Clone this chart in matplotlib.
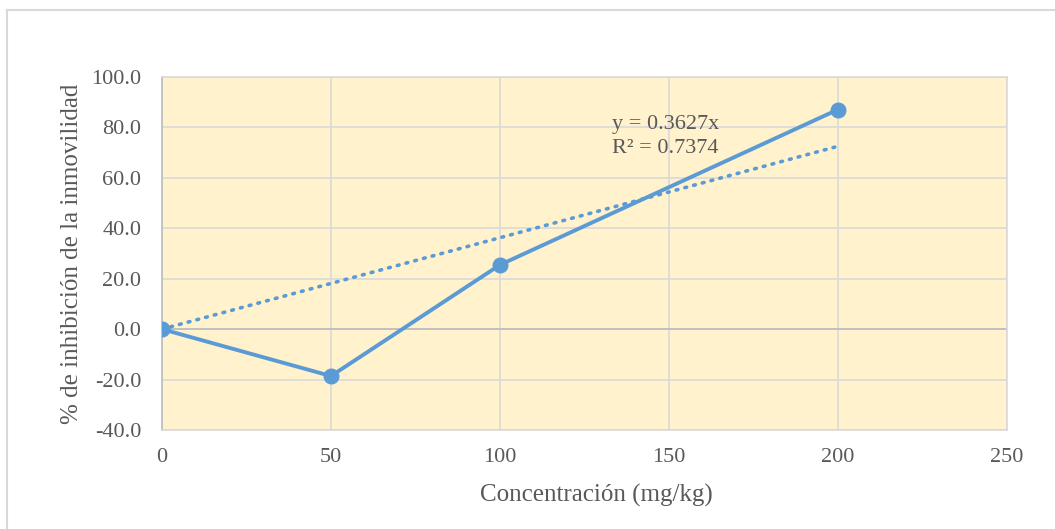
import numpy as np
from matplotlib import pyplot as plt
from matplotlib.lines import Line2D

# datos
conc = [0, 50, 100, 200]
inhib = [0.0, -18.6, 25.5, 87.1]
x_ticks = [0, 50, 100, 150, 200, 250]
y_ticks = [-40, -20, 0, 20, 40, 60, 80, 100]
eq_text = "y = 0.3627x\nR² = 0.7374"

plt.rcParams['font.family'] = ['Liberation Serif', 'DejaVu Serif']

azul = '#5B9BD5'
gris_txt = '#595959'

fig = plt.figure(figsize=(10.55, 5.29), dpi=100)
ax = fig.add_axes([162 / 1055, 1 - 430 / 529, 845 / 1055, 353 / 529])
ax.set_facecolor('#FFF2CC')

# linea de tendencia por el origen
xa = np.array(conc, dtype=float)
ya = np.array(inhib, dtype=float)
m = (xa * ya).sum() / (xa * xa).sum()
ax.plot([0, 200], [0, m * 200], linestyle=(0, (0.5, 2.0)), dash_capstyle='round',
        color=azul, lw=2.6, zorder=3)

ax.plot(conc, inhib, color=azul, lw=2.8, marker='o', markersize=10.5, zorder=4)

ax.axhline(0, color='#BFBFBF', lw=1.3, zorder=2)

ax.set_xlim(0, 250)
ax.set_ylim(-40, 100)
ax.set_xticks(x_ticks)
ax.set_yticks(y_ticks)
ax.set_yticklabels([f"{v:.1f}" for v in y_ticks])
ax.grid(True, color='#D9D9D9', lw=1.2, zorder=1)
ax.set_axisbelow(True)
ax.tick_params(length=0, labelsize=16, labelcolor=gris_txt)
ax.tick_params(axis='y', pad=15)
ax.tick_params(axis='x', pad=13)

for s in ['top', 'right', 'bottom']:
    ax.spines[s].set_color('#D9D9D9')
    ax.spines[s].set_linewidth(1.2)
ax.spines['left'].set_color('#BFBFBF')
ax.spines['left'].set_linewidth(1.3)

ax.text(133, 85.0, eq_text, fontsize=16, color=gris_txt, va='top', ha='left',
        linespacing=1.4, zorder=5)

ax.set_xlabel("Concentración (mg/kg)", fontsize=18, color=gris_txt)
ax.set_ylabel("% de inhibición de la inmovilidad", fontsize=18, color=gris_txt)
ax.xaxis.set_label_coords((596 - 162) / 845, (430 - 495) / 353)
ax.xaxis.label.set_va('center')
ax.yaxis.set_label_coords((72 - 162) / 845, 0.5)
ax.yaxis.label.set_va('center')

# marco exterior
fig.add_artist(Line2D([7 / 1055, 1], [1 - 10 / 529, 1 - 10 / 529],
                      color='#D9D9D9', lw=1.5, transform=fig.transFigure))
fig.add_artist(Line2D([7 / 1055, 7 / 1055], [0, 1 - 10 / 529],
                      color='#D9D9D9', lw=1.5, transform=fig.transFigure))

fig.savefig('out.png', dpi=100)
